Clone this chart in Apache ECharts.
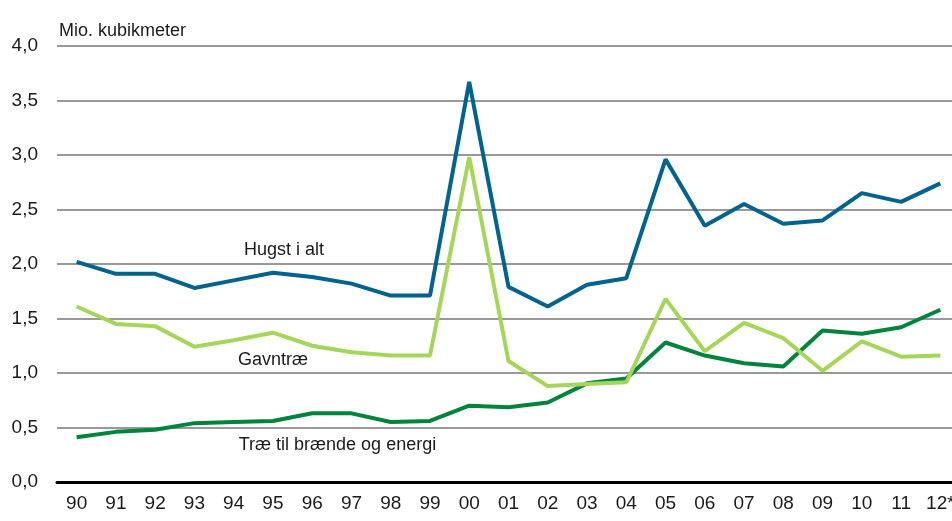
<!DOCTYPE html>
<html>
<head>
<meta charset="utf-8">
<script src="https://cdn.jsdelivr.net/npm/echarts@6/dist/echarts.min.js"></script>
<style>
html, body { margin: 0; padding: 0; background: #fff; }
#chart { width: 952px; height: 521px; }
</style>
</head>
<body>
<div id="chart"></div>
<script>
var years = ['90', '91', '92', '93', '94', '95', '96', '97', '98', '99', '00', '01', '02', '03', '04', '05', '06', '07', '08', '09', '10', '11', '12*'];
var hugst = [2.02, 1.91, 1.91, 1.78, 1.85, 1.92, 1.88, 1.82, 1.71, 1.71, 3.67, 1.79, 1.61, 1.81, 1.87, 2.96, 2.35, 2.55, 2.37, 2.40, 2.65, 2.57, 2.74];
var gavntrae = [1.61, 1.45, 1.43, 1.24, 1.30, 1.37, 1.25, 1.19, 1.16, 1.16, 2.98, 1.11, 0.88, 0.90, 0.915, 1.68, 1.20, 1.46, 1.32, 1.02, 1.29, 1.15, 1.16];
var braende = [0.41, 0.46, 0.48, 0.54, 0.55, 0.56, 0.63, 0.63, 0.55, 0.56, 0.70, 0.685, 0.73, 0.905, 0.95, 1.28, 1.16, 1.09, 1.06, 1.39, 1.36, 1.42, 1.58];

var font = "'Liberation Sans Narrow', 'Arial Narrow', 'Liberation Sans', sans-serif";

function lineSeries(name, data, color, labelCoord, labelOffset) {
    return {
        name: name,
        type: 'line',
        data: data,
        symbol: 'none',
        lineStyle: { color: color, width: 4 },
        itemStyle: { color: color },
        z: 3,
        markPoint: {
            symbol: 'circle',
            symbolSize: 0,
            silent: true,
            label: {
                show: true,
                formatter: name,
                position: 'inside',
                offset: labelOffset,
                color: '#1a1a1a',
                fontSize: 18,
                fontFamily: font
            },
            data: [{ coord: labelCoord }]
        }
    };
}

var chart = echarts.init(document.getElementById('chart'));
chart.setOption({
    animation: false,
    title: {
        text: 'Mio. kubikmeter',
        left: 54,
        top: 17,
        textStyle: { color: '#1a1a1a', fontSize: 18, fontWeight: 'normal', fontFamily: font }
    },
    grid: { left: 57, width: 903, top: 46, bottom: 39, outerBoundsMode: 'none' },
    xAxis: {
        type: 'category',
        data: years,
        boundaryGap: true,
        axisLine: { lineStyle: { color: '#000', width: 3 } },
        axisTick: { show: false },
        axisLabel: { color: '#1a1a1a', fontSize: 19, fontFamily: font, margin: 12, interval: 0 }
    },
    yAxis: {
        type: 'value',
        min: 0,
        max: 4,
        interval: 0.5,
        axisLine: { show: false },
        axisTick: { show: false },
        splitLine: { lineStyle: { color: '#999', width: 2 } },
        axisLabel: {
            color: '#1a1a1a',
            fontSize: 19,
            fontFamily: font,
            margin: 19,
            formatter: function (v) {
                return v.toFixed(1).replace('.', ',');
            }
        }
    },
    series: [
        lineSeries('Træ til brænde og energi', braende, '#00843d', ['97', 0.34], [-14, 0]),
        lineSeries('Gavntræ', gavntrae, '#a5d65a', ['95', 1.12], [0, 0]),
        lineSeries('Hugst i alt', hugst, '#00628f', ['95', 2.13], [11, 0])
    ]
});
</script>
</body>
</html>
